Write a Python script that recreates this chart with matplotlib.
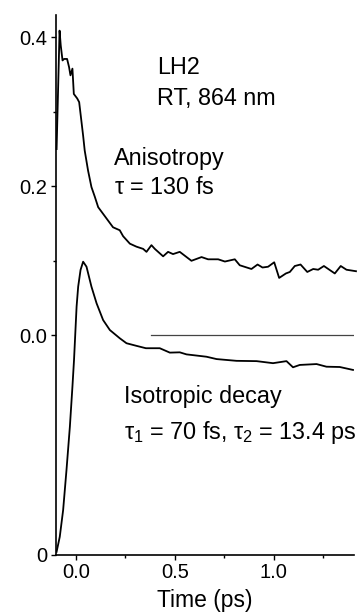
import matplotlib

matplotlib.use("Agg")

import matplotlib.pyplot as plt
from matplotlib.ticker import FixedLocator

plt.rcParams["font.family"] = "Liberation Sans"
plt.rcParams["mathtext.fontset"] = "custom"
plt.rcParams["mathtext.rm"] = "Liberation Sans"
plt.rcParams["mathtext.it"] = "Liberation Sans"

# anisotropy trace (left scale)
aniso_t = [-0.097, -0.082, -0.076, -0.067, -0.059, -0.044, -0.034, -0.027, -0.017,
           -0.010, 0.007, 0.017, 0.037, 0.045, 0.062, 0.079, 0.096, 0.113, 0.138,
           0.163, 0.188, 0.222, 0.239, 0.273, 0.306, 0.340, 0.357, 0.382, 0.399,
           0.441, 0.466, 0.491, 0.525, 0.584, 0.635, 0.668, 0.719, 0.753, 0.803,
           0.828, 0.887, 0.918, 0.943, 0.971, 1.002, 1.027, 1.061, 1.081, 1.106,
           1.135, 1.169, 1.199, 1.224, 1.253, 1.308, 1.338, 1.367, 1.415]
aniso_r = [0.250, 0.409, 0.389, 0.369, 0.371, 0.371, 0.360, 0.349, 0.358,
           0.324, 0.318, 0.313, 0.268, 0.248, 0.221, 0.199, 0.186, 0.172, 0.163,
           0.154, 0.145, 0.141, 0.133, 0.123, 0.119, 0.116, 0.112, 0.121, 0.116,
           0.106, 0.112, 0.109, 0.112, 0.100, 0.105, 0.102, 0.102, 0.099, 0.102,
           0.094, 0.089, 0.095, 0.091, 0.092, 0.098, 0.077, 0.083, 0.085, 0.093,
           0.095, 0.085, 0.089, 0.088, 0.093, 0.083, 0.093, 0.088, 0.086]

# isotropic decay (normalised, own zero at the bottom)
iso_t = [-0.097, -0.081, -0.064, -0.047, -0.030, -0.017, -0.009, 0.004, 0.012,
         0.024, 0.037, 0.054, 0.079, 0.105, 0.138, 0.172, 0.222, 0.256, 0.307,
         0.354, 0.424, 0.475, 0.525, 0.559, 0.610, 0.660, 0.711, 0.761, 0.812,
         0.913, 0.996, 1.064, 1.097, 1.131, 1.216, 1.266, 1.333, 1.400]
iso_s = [0.011, 0.062, 0.153, 0.290, 0.437, 0.574, 0.665, 0.847, 0.915,
         0.972, 1.000, 0.983, 0.915, 0.858, 0.801, 0.767, 0.739, 0.722, 0.713,
         0.705, 0.705, 0.690, 0.691, 0.684, 0.680, 0.676, 0.668, 0.665, 0.662,
         0.661, 0.654, 0.661, 0.640, 0.648, 0.651, 0.642, 0.641, 0.631]

zero_line_t = [0.382, 1.40]
zero_line_r = [0.0, 0.0]

fig = plt.figure(figsize=(3.59, 6.16), dpi=100)
ax = fig.add_axes([56 / 359, 61 / 616, 298 / 359, 540 / 616])

ax.plot(aniso_t, aniso_r, color="black", lw=1.3, clip_on=False)
ax.plot(zero_line_t, zero_line_r, color="#444444", lw=0.9)

ax.set_xlim(-0.1, 1.405)
ax.set_ylim(-0.295, 0.43)
for s in ("top", "right"):
    ax.spines[s].set_visible(False)
for s in ("left", "bottom"):
    ax.spines[s].set_linewidth(1.2)

ax.set_xticks([0.0, 0.5, 1.0])
ax.set_xticklabels(["0.0", "0.5", "1.0"])
ax.xaxis.set_minor_locator(FixedLocator([0.25, 0.75, 1.25]))
ax.set_yticks([0.0, 0.2, 0.4])
ax.set_yticklabels(["0.0", "0.2", "0.4"])
ax.yaxis.set_minor_locator(FixedLocator([0.1, 0.3]))
ax.tick_params(which="major", direction="out", length=3.6, width=1.0, labelsize=14.5, pad=2.5)
ax.tick_params(which="minor", direction="out", length=2.2, width=1.0)
ax.set_xlabel("Time (ps)", fontsize=16.5, labelpad=5)

ax2 = ax.twinx()
ax2.plot(iso_t, iso_s, color="black", lw=1.3)
ax2.set_ylim(0, 540 / 293.3)
for s in ax2.spines.values():
    s.set_visible(False)
ax2.yaxis.tick_left()
ax2.set_yticks([0])
ax2.set_yticklabels(["0"])
ax2.tick_params(direction="out", length=3.6, width=1.0, labelsize=14.5, pad=2.5)


def put(px, py, s):
    fig.text(px / 359, 1 - py / 616, s, fontsize=16.8, ha="left", va="center")


put(157, 68, "LH2")
put(157, 99, "RT, 864 nm")
put(114, 158, "Anisotropy")
put(114, 187, r"$\tau$ = 130 fs")
put(124, 397, "Isotropic decay")
put(124, 432, r"$\tau_1$ = 70 fs, $\tau_2$ = 13.4 ps")

fig.savefig("out.png", dpi=100)
